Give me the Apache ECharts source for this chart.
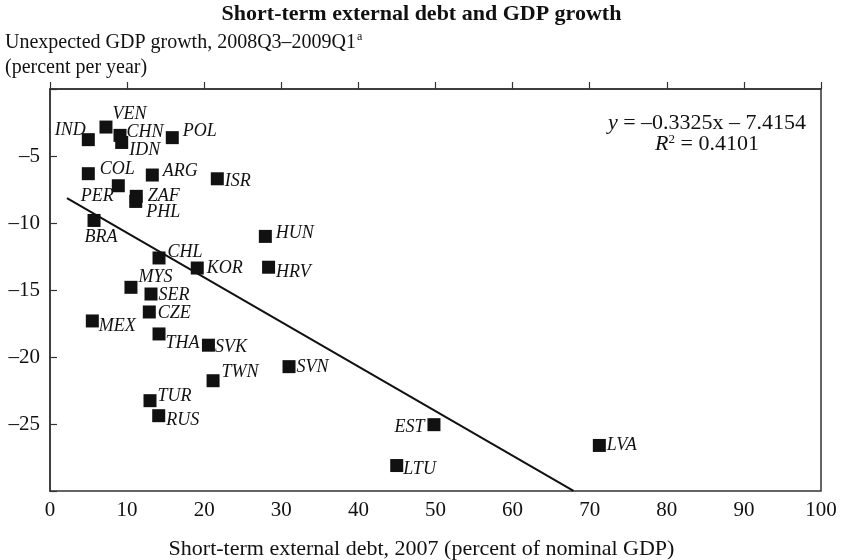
<!DOCTYPE html>
<html><head><meta charset="utf-8">
<script src="https://cdn.jsdelivr.net/npm/echarts@6/dist/echarts.min.js"></script>
<style>html,body{margin:0;padding:0;background:#fff}#c{width:843px;height:560px}</style>
</head><body><div id="c"></div>
<script>
const countries = ['IND','VEN','CHN','IDN','POL','COL','ARG','ISR','PER','ZAF','PHL','BRA','HUN','CHL','KOR','HRV','MYS','SER','CZE','MEX','THA','SVK','SVN','TWN','TUR','RUS','EST','LVA','LTU'];
const debtX = [4.97,7.26,9.08,9.30,15.86,4.97,13.27,21.7,8.86,11.19,11.12,5.71,27.93,14.14,19.1,28.35,10.5,13.1,12.88,5.49,14.14,20.55,31.0,21.15,12.97,14.1,49.8,71.25,44.97];
const growthY = [-3.78,-2.84,-3.46,-3.99,-3.63,-6.32,-6.42,-6.7,-7.22,-8.01,-8.39,-9.81,-11.0,-12.61,-13.36,-13.3,-14.8,-15.3,-16.64,-17.31,-18.28,-19.12,-20.72,-21.77,-23.26,-24.38,-25.05,-26.6,-28.1];
const fitSlope = -0.3325;
const fitIntercept = -7.4154;
const fitXRange = [2.2, 67.9];
const titleText = 'Short-term external debt and GDP growth';
const yTitle1 = 'Unexpected GDP growth, 2008Q3\u20132009Q1';
const yTitle2 = '(percent per year)';
const xTitle = 'Short-term external debt, 2007 (percent of nominal GDP)';

// label placement (style only): [side, gap, dx, dy]
const L = {
  IND:['left',0,4,-9], VEN:['right',0,0,-13], CHN:['right',0,0,-3], IDN:['right',1,0,8],
  POL:['right',4,0,-6], COL:['right',5,0,-4], ARG:['right',4,0,-4], ISR:['right',1,0,2],
  PER:['left',-2,0,11], ZAF:['right',5,0,0], PHL:['right',4,0,11], BRA:['bottom',1,7,0],
  HUN:['right',4,0,-3], CHL:['right',2,0,-6], KOR:['right',3,0,0], HRV:['right',1,0,5],
  MYS:['right',1,0,-10], SER:['right',1,0,1], CZE:['right',2,0,1], MEX:['right',0,0,5],
  THA:['right',0,0,9], SVK:['right',0,0,2], SVN:['right',1,0,1], TWN:['right',2,0,-8],
  TUR:['right',1,0,-4], RUS:['right',1,0,5], EST:['left',3,0,3], LVA:['right',1,0,0], LTU:['right',0,0,4]
};

const FONT = 'Liberation Serif';
const ink = '#111';
const SZ = 13;
function labelFor(n){
  const [side,g,dx,dy] = L[n];
  if (side==='right') return {position:[SZ+g+dx, SZ/2+dy], align:'left', verticalAlign:'middle'};
  if (side==='left') return {position:[-g+dx, SZ/2+dy], align:'right', verticalAlign:'middle'};
  return {position:[SZ/2+dx, SZ+g+dy], align:'center', verticalAlign:'top'};
}
const pts = countries.map((n,i)=>({name:n, value:[debtX[i], growthY[i]],
  label:Object.assign({show:true, formatter:n}, labelFor(n))}));
const fitData = fitXRange.map(x=>[x, fitSlope*x + fitIntercept]);

const chart = echarts.init(document.getElementById('c'), null, {renderer:'canvas'});
chart.setOption({
  animation:false,
  backgroundColor:'#fff',
  title:[
    {text:titleText, left:'center', top:-2, textStyle:{fontFamily:FONT, fontWeight:'bold', fontSize:22, color:ink}},
    {text:'{m|'+yTitle1+'}{s|a}', left:0, top:26, textStyle:{fontWeight:'normal', rich:{
      m:{fontFamily:FONT, fontWeight:'normal', fontSize:20, color:ink, lineHeight:24},
      s:{fontFamily:FONT, fontWeight:'normal', fontSize:12, color:ink, verticalAlign:'top', lineHeight:24, padding:[0,0,7,1]}}}},
    {text:yTitle2, left:0, top:53, textStyle:{fontFamily:FONT, fontWeight:'normal', fontSize:20, color:ink}},
    {text:xTitle, left:'center', top:533, textStyle:{fontFamily:FONT, fontWeight:'normal', fontSize:22, color:ink}}
  ],
  grid:{left:50, right:22, top:89, bottom:69, show:true, borderColor:'#333', borderWidth:1.5, containLabel:false},
  xAxis:{type:'value', min:0, max:100, interval:10,
    axisLine:{show:true, lineStyle:{color:'#333', width:1.5}},
    axisTick:{show:true, inside:true, length:7, lineStyle:{color:'#333', width:1.2}},
    axisLabel:{fontFamily:FONT, fontSize:21, color:ink, margin:9},
    splitLine:{show:false}},
  yAxis:{type:'value', min:-30, max:0, interval:5,
    axisLine:{show:true, lineStyle:{color:'#333', width:1.5}},
    axisTick:{show:true, inside:true, length:7, lineStyle:{color:'#333', width:1.2}},
    axisLabel:{fontFamily:FONT, fontSize:21, color:ink, margin:10,
      formatter:v=> (v===0||v===-30) ? '' : (v<0 ? '\u2013'+Math.abs(v) : String(v))},
    splitLine:{show:false}},
  graphic:[
    {type:'text', x:707, y:123, style:{
      text:'{i|y} = \u20130.3325x \u2013 7.4154', textAlign:'center', textVerticalAlign:'middle',
      font:'22px "Liberation Serif"', fill:ink,
      rich:{i:{fontFamily:FONT, fontStyle:'italic', fontSize:22}}}},
    {type:'text', x:707, y:144, style:{
      text:'{i|R}{s|2} = 0.4101', textAlign:'center', textVerticalAlign:'middle',
      font:'22px "Liberation Serif"', fill:ink,
      rich:{i:{fontFamily:FONT, fontStyle:'italic', fontSize:22}, s:{fontFamily:FONT, fontSize:13, verticalAlign:'top', padding:[0,0,7,0]}}}}
  ],
  series:[
    {type:'line', data:fitData, showSymbol:false, symbol:'none', silent:true,
      lineStyle:{color:ink, width:2}, z:1},
    {type:'scatter', data:pts, symbol:'rect', symbolSize:SZ,
      itemStyle:{color:ink, opacity:1}, z:3,
      label:{fontFamily:FONT, fontStyle:'italic', fontSize:18, color:ink},
      labelLayout:{hideOverlap:false}}
  ]
});
</script></body></html>
